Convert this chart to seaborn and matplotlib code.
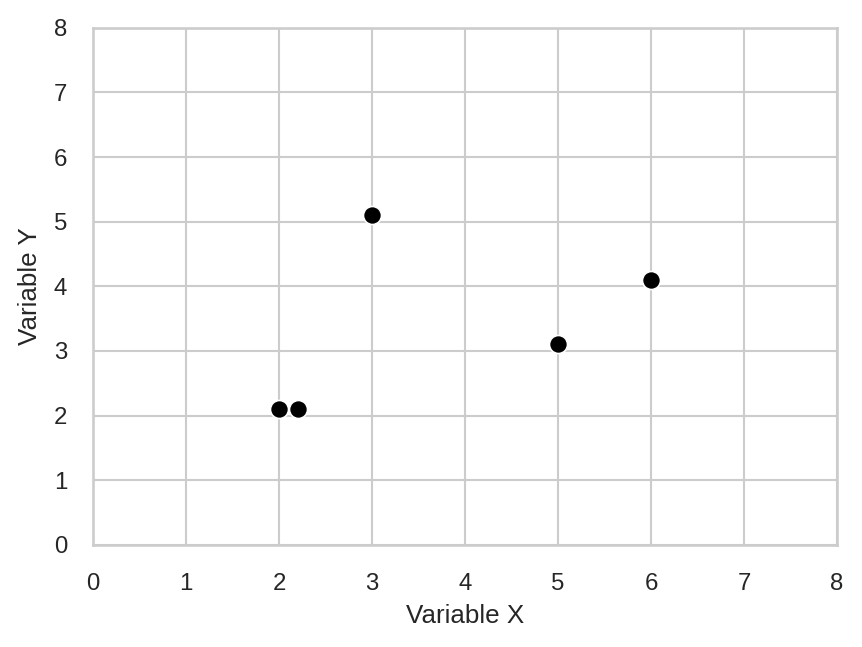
import matplotlib
matplotlib.use("Agg")
import matplotlib.pyplot as plt
import seaborn as sns
import pandas as pd

X_VALUES = [2.0, 2.2, 3.0, 5.0, 6.0]
Y_VALUES = [2.1, 2.1, 5.1, 3.1, 4.1]
TICKS = [0, 1, 2, 3, 4, 5, 6, 7, 8]

DPI = 150


def main():
    sns.set_theme(style="whitegrid", context="notebook")
    plt.rcParams["font.family"] = ["Liberation Sans", "DejaVu Sans"]
    plt.rcParams["xtick.major.pad"] = 7.5
    plt.rcParams["ytick.major.pad"] = 6.5

    df = pd.DataFrame({"x": X_VALUES, "y": Y_VALUES})

    fig, ax = plt.subplots(figsize=(862 / DPI, 647 / DPI), dpi=DPI)
    sns.scatterplot(data=df, x="x", y="y", color="black", s=75,
                    edgecolor="white", linewidth=0.8, ax=ax, zorder=3)

    ax.set_xlim(0, 8)
    ax.set_ylim(0, 8)
    ax.set_xticks(TICKS)
    ax.set_yticks(TICKS)
    ax.tick_params(labelsize=11.5)
    ax.set_xlabel("Variable X", fontsize=12.5, labelpad=4.5)
    ax.set_ylabel("Variable Y", fontsize=12.5, labelpad=5.5)

    fig.subplots_adjust(left=0.108, right=0.971, top=0.957, bottom=0.158)
    fig.savefig("out.png", dpi=DPI)
    plt.close(fig)


if __name__ == "__main__":
    main()
